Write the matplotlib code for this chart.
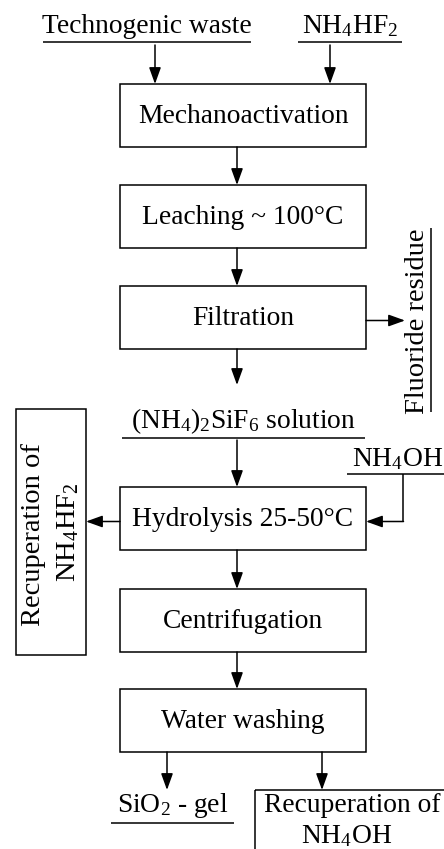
import matplotlib
matplotlib.use("Agg")
import matplotlib.pyplot as plt
from matplotlib.patches import Rectangle

plt.rcParams.update({
    "font.family": ["Liberation Serif", "DejaVu Serif"],
    "mathtext.fontset": "custom",
    "mathtext.rm": "Liberation Serif",
    "mathtext.it": "Liberation Serif:italic",
    "mathtext.bf": "Liberation Serif:bold",
})

# process steps (main column) and side streams
steps = ["Mechanoactivation", "Leaching ~ 100°C", "Filtration",
         "Hydrolysis 25-50°C", "Centrifugation", "Water washing"]
inputs = ["Technogenic waste", r"$\mathrm{NH_4HF_2}$"]
intermediate = r"$\mathrm{(NH_4)_2SiF_6}$ solution"
residue = "Fluoride residue"
reagent = r"$\mathrm{NH_4OH}$"
recup_left = ["Recuperation of", r"$\mathrm{NH_4HF_2}$"]
product_gel = r"$\mathrm{SiO_2}$ - gel"
recup_bottom = ["Recuperation of", r"$\mathrm{NH_4OH}$"]

# layout (pixel coordinates, y downwards)
box_x0, box_x1 = 120, 366
step_tops = [84, 185, 286, 487, 589, 689]
step_h = 63
FS = 19.8
FS_ROT = 20.5
LW = 1.1

fig = plt.figure(figsize=(4.44, 8.49), dpi=100)
ax = fig.add_axes([0, 0, 1, 1])
ax.set_xlim(0, 444)
ax.set_ylim(849, 0)
ax.axis("off")


def arrow(x0, y0, x1, y1):
    ax.annotate("", xy=(x1, y1), xytext=(x0, y0),
                arrowprops=dict(arrowstyle="-|>,head_length=1.0,head_width=0.36",
                                mutation_scale=10, color="black", lw=LW,
                                shrinkA=0, shrinkB=0))


def line(xs, ys):
    ax.plot(xs, ys, color="black", lw=LW, solid_capstyle="butt")


# main boxes
xc = (box_x0 + box_x1) / 2
for name, top in zip(steps, step_tops):
    ax.add_patch(Rectangle((box_x0, top), box_x1 - box_x0, step_h,
                           fill=False, ec="black", lw=LW))
    ax.text(xc, top + step_h / 2 + 1, name, ha="center", va="center", fontsize=FS)

# inputs on top
ax.text(147, 26, inputs[0], ha="center", va="center", fontsize=FS)
line([43, 251], [42, 42])
ax.text(350, 26, inputs[1], ha="center", va="center", fontsize=FS)
line([298, 402], [42, 42])
arrow(155, 45, 155, step_tops[0])
arrow(330, 45, 330, step_tops[0])

# vertical arrows between steps
arrow(237, step_tops[0] + step_h, 237, step_tops[1])
arrow(237, step_tops[1] + step_h, 237, step_tops[2])
arrow(237, step_tops[2] + step_h, 237, 385)
ax.text(xc, 421, intermediate, ha="center", va="center", fontsize=FS)
line([122, 365], [438, 438])
arrow(237, 440, 237, step_tops[3])
arrow(237, step_tops[3] + step_h, 237, step_tops[4])
arrow(237, step_tops[4] + step_h, 237, step_tops[5])

# fluoride residue
fy = step_tops[2] + step_h / 2 + 3
arrow(box_x1, fy, 405, fy)
ax.text(417, 321, residue, ha="center", va="center", rotation=90, fontsize=FS_ROT)
line([431, 431], [228, 412])

# NH4OH addition to hydrolysis
hy = step_tops[3] + step_h / 2 + 3
ax.text(398, 459, reagent, ha="center", va="center", fontsize=FS)
line([347, 450], [474, 474])
line([403, 403], [474, hy])
arrow(403.5, hy, box_x1, hy)

# recuperation of NH4HF2 (left)
ax.add_patch(Rectangle((16, 409), 70, 246, fill=False, ec="black", lw=LW))
ax.text(34, 535, recup_left[0], ha="center", va="center", rotation=90, fontsize=FS_ROT)
ax.text(68, 532, recup_left[1], ha="center", va="center", rotation=90, fontsize=FS_ROT)
arrow(box_x0, hy, 86, hy)

# products at bottom
bot = step_tops[5] + step_h
arrow(167, bot, 167, 790)
arrow(322, bot, 322, 790)
ax.text(173, 806, product_gel, ha="center", va="center", fontsize=FS)
line([111, 234], [823, 823])
ax.add_patch(Rectangle((255, 790), 200, 80, fill=False, ec="black", lw=LW))
ax.text(352, 806, recup_bottom[0], ha="center", va="center", fontsize=FS)
ax.text(347, 836, recup_bottom[1], ha="center", va="center", fontsize=FS)

fig.savefig("out.png", dpi=100)
